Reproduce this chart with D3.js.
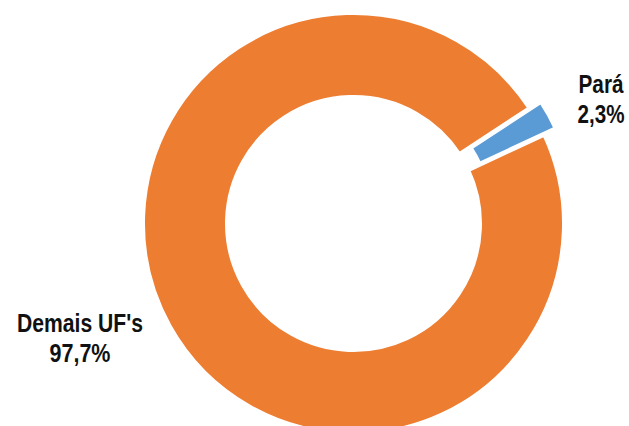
<!DOCTYPE html>
<html>
<head>
<meta charset="utf-8">
<script src="https://cdn.jsdelivr.net/npm/d3@7"></script>
<style>
  html, body { margin: 0; padding: 0; background: #fff; }
  svg { display: block; }
  .lbl { font-family: "Liberation Sans Narrow", "Arial Narrow", "Liberation Sans", Arial, sans-serif; font-weight: bold; font-size: 25px; fill: #111; }
</style>
</head>
<body>
<svg id="chart" width="629" height="426"></svg>
<script>
// Participação no total (%)
const categories = ["Pará", "Demais UF's"];
const shares = [2.3, 97.7];
const shareLabels = ["2,3%", "97,7%"];
const colors = ["#5B9BD5", "#ED7D31"];

const W = 629, H = 426;
const cx = 353.5, cy = 223.5;
const strokeW = 4;
const outerR = 208.5 + strokeW / 2;
const innerR = 128.5 - strokeW / 2;
const explode = 13;                      // offset of the highlighted slice
const start = 56.75 * Math.PI / 180;     // first slice angle

const svg = d3.select("#chart");
const g = svg.append("g").attr("transform", `translate(${cx},${cy})`);

const pie = d3.pie().sort(null).value(d => d.value)
  .startAngle(start).endAngle(start + 2 * Math.PI);
const arc = d3.arc().innerRadius(innerR).outerRadius(outerR);

const data = categories.map((c, i) => ({ name: c, value: shares[i], label: shareLabels[i], color: colors[i] }));
const arcs = pie(data);

g.selectAll("path.slice")
  .data(arcs)
  .join("path")
  .attr("class", "slice")
  .attr("d", arc)
  .attr("fill", d => d.data.color)
  .attr("stroke", "#fff")
  .attr("stroke-width", strokeW)
  .attr("stroke-linejoin", "miter")
  .attr("transform", (d, i) => {
    if (i !== 0) return null;
    const mid = (d.startAngle + d.endAngle) / 2;
    return `translate(${explode * Math.sin(mid)},${-explode * Math.cos(mid)})`;
  });

// Data labels: category name over value, condensed to a set width
const labelPos = [
  { x: 601, y: 93, w1: 45, w2: 47 },
  { x: 80, y: 332, w1: 126, w2: 61 }
];
function condensed(sel, x, y, width, str) {
  const t = sel.append("text").attr("class", "lbl")
    .attr("text-anchor", "middle").text(str);
  const natural = t.node().getComputedTextLength();
  const sx = width / natural;
  t.attr("transform", `translate(${x},${y}) scale(${sx},1)`);
}
arcs.forEach((d, i) => {
  const p = labelPos[i];
  const t = svg.append("g");
  condensed(t, p.x, p.y, p.w1, d.data.name);
  condensed(t, p.x, p.y + 30, p.w2, d.data.label);
});
</script>
</body>
</html>
